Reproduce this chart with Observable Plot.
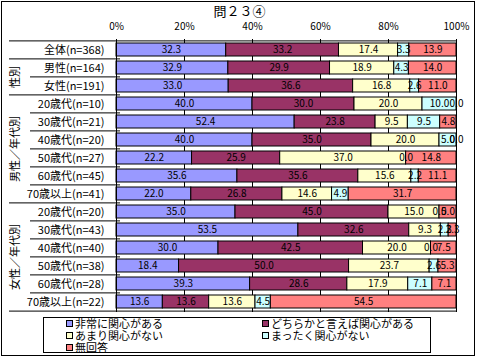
<!DOCTYPE html>
<html><head><meta charset="utf-8">
<script src="https://cdn.jsdelivr.net/npm/d3@7"></script>
<script src="https://cdn.jsdelivr.net/npm/@observablehq/plot@0.6"></script>
<style>
body{margin:0;background:#fff;font-family:"Noto Sans CJK JP",sans-serif;}
#wrap{position:relative;width:479px;height:359px;overflow:hidden;background:#fff;}
#frame{position:absolute;left:1px;top:1px;width:472px;height:353px;border:1px solid #000;pointer-events:none;}
#title{position:absolute;left:0;width:479px;top:2px;text-align:center;font-size:13px;line-height:18px;}
#chart{position:absolute;left:0;top:14px;}
#legend{position:absolute;left:43px;top:317px;width:386px;height:34px;border:1px solid #000;}
.li{position:absolute;font-size:11px;line-height:12px;white-space:nowrap;}
.sw{display:inline-block;width:5px;height:5px;border:1px solid #000;margin-right:2px;vertical-align:1px;}
</style></head><body>
<div id="wrap"><div id="title">問２３④</div><div id="chart"></div><div id="legend"></div><div id="frame"></div></div>
<script>
const categories = ["全体(n=368)","男性(n=164)","女性(n=191)",
  "20歳代(n=10)","30歳代(n=21)","40歳代(n=20)","50歳代(n=27)","60歳代(n=45)","70歳以上(n=41)",
  "20歳代(n=20)","30歳代(n=43)","40歳代(n=40)","50歳代(n=38)","60歳代(n=28)","70歳以上(n=22)"];
const series = ["非常に関心がある","どちらかと言えば関心がある","あまり関心がない","まったく関心がない","無回答"];
const colors = ["#9999FF","#993366","#FFFFCC","#CCFFFF","#FF8080"];
const s1 = [32.3,32.9,33.0,40.0,52.4,40.0,22.2,35.6,22.0,35.0,53.5,30.0,18.4,39.3,13.6];
const s2 = [33.2,29.9,36.6,30.0,23.8,35.0,25.9,35.6,26.8,45.0,32.6,42.5,50.0,28.6,13.6];
const s3 = [17.4,18.9,16.8,20.0,9.5,20.0,37.0,15.6,14.6,15.0,9.3,20.0,23.7,17.9,13.6];
const s4 = [3.3,4.3,2.6,10.0,9.5,5.0,0.0,2.2,4.9,0.0,2.3,0.0,2.6,7.1,4.5];
const s5 = [13.9,14.0,11.0,0.0,4.8,0.0,14.8,11.1,31.7,5.0,2.3,7.5,5.3,7.1,54.5];
const xTicks = [0,0.2,0.4,0.6,0.8,1];
const groupNames = ["性別","男性／年代別","女性／年代別"];
const groupSpans = [[1,2],[3,8],[9,14]];

const vals = [s1,s2,s3,s4,s5];
const data = categories.flatMap((c,i)=>series.map((s,j)=>({row:c, series:s, value:vals[j][i]})));

const W=479,H=302,mT=25,mB=4,mL=116,mR=23;
const step=(H-mT-mB)/categories.length;
const pw=W-mL-mR;
const xFull=-(mL-9)/pw, xPart=-(mL-30)/pw, xTick=4/pw, xGroup=-(mL-15)/pw;
const fullIdx=new Set([0,1,3,9]);
const tops=categories.map((c,i)=>({cat:c,x1:fullIdx.has(i)?xFull:xPart,x2:i===0?1:xTick}));
const bottom=[{cat:categories[categories.length-1],x1:xFull,x2:1}];
const groups=groupNames.map((g,k)=>({name:g,cat:categories[(groupSpans[k][0]+groupSpans[k][1]+1)/2]}));

const font='"Noto Sans CJK JP", sans-serif';
const chart = Plot.plot({
  width:W,height:H,marginTop:mT,marginBottom:mB,marginLeft:mL,marginRight:mR,
  x:{domain:[0,1],axis:null},
  y:{domain:categories,paddingInner:0.3,paddingOuter:0.15,axis:null},
  color:{domain:series,range:colors},
  style:{fontFamily:font,background:"transparent",overflow:"visible",color:"black"},
  marks:[
    Plot.ruleX([0.2,0.4,0.6,0.8],{stroke:"black",strokeWidth:1}),
    Plot.barX(data,Plot.stackX({x:"value",y:"row",fill:"series",stroke:"black",strokeWidth:1,offset:"normalize"})),
    Plot.ruleX([0,1],{stroke:"black",strokeWidth:1}),
    Plot.ruleY(tops,{y:"cat",x1:"x1",x2:"x2",dy:-step/2,stroke:"black"}),
    Plot.ruleY(bottom,{y:"cat",x1:"x1",x2:"x2",dy:step/2,stroke:"black"}),
    Plot.text(data,Plot.stackX({x:"value",y:"row",z:"series",offset:"normalize",text:d=>d.value.toFixed(1),fontSize:10,fill:"black"})),
    Plot.text(groups,{x:()=>xGroup,y:"cat",dy:-step/2,text:"name",rotate:-90,fontSize:11,fill:"black"}),
    Plot.axisX({anchor:"top",ticks:xTicks,tickFormat:d=>Math.round(d*100)+"%",tickSize:0,tickPadding:10,label:null,fontSize:10}),
    Plot.axisY({tickSize:0,tickPadding:12,label:null,fontSize:11})
  ]
});
document.getElementById("chart").appendChild(chart);

const legend=document.getElementById("legend");
const pos=[[22,-1],[218,-1],[22,11],[218,11],[22,23]];
series.forEach((s,i)=>{
  const d=document.createElement("div");
  d.className="li";
  d.style.left=pos[i][0]+"px";d.style.top=pos[i][1]+"px";
  d.innerHTML='<span class="sw" style="background:'+colors[i]+'"></span>'+s;
  legend.appendChild(d);
});
</script>
</body></html>
